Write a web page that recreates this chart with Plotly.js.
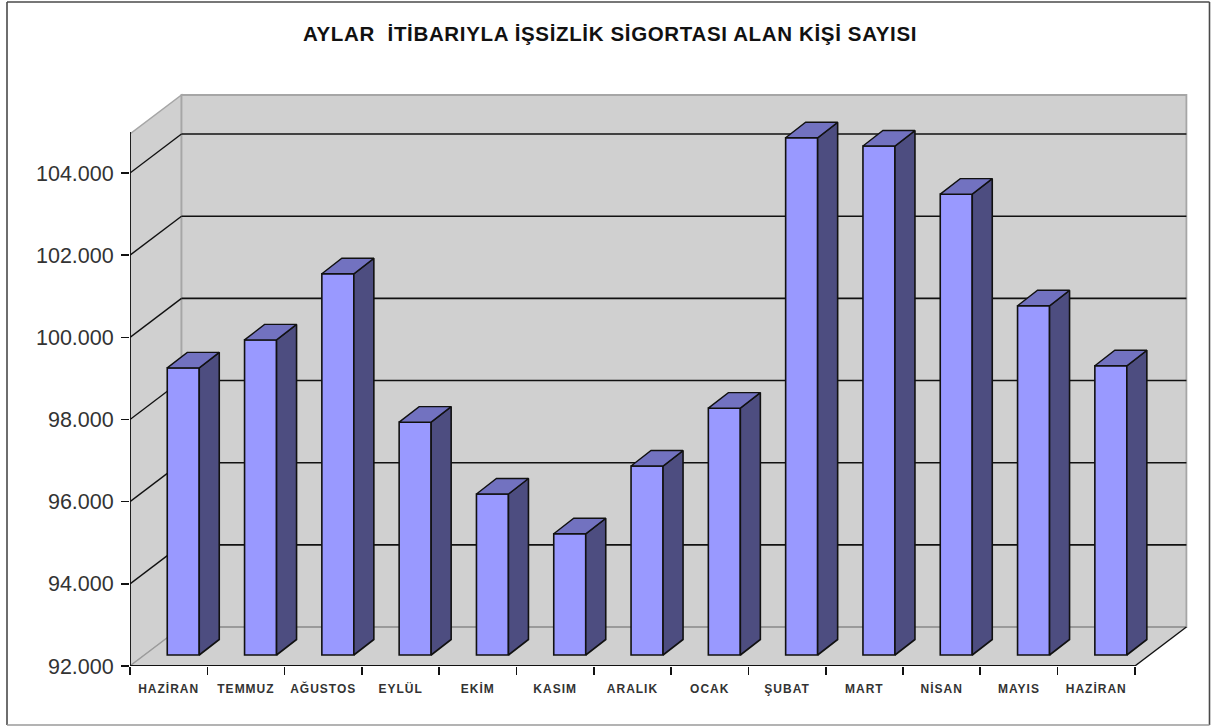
<!DOCTYPE html>
<html>
<head>
<meta charset="utf-8">
<script src="https://cdn.plot.ly/plotly-3.0.1.min.js"></script>
<style>
html,body{margin:0;padding:0;background:#fff;overflow:hidden}
#c{width:1211px;height:726px}
.gtitle{letter-spacing:0.65px}
.xtick text{letter-spacing:1px}
</style>
</head>
<body>
<div id="c"></div>
<script>
const months = ["HAZİRAN","TEMMUZ","AĞUSTOS","EYLÜL","EKİM","KASIM","ARALIK","OCAK","ŞUBAT","MART","NİSAN","MAYIS","HAZİRAN"];
const values = [98990,99670,101280,97670,95920,94950,96600,98010,104590,104390,103220,100500,99040];
const yTicks = [92000,94000,96000,98000,100000,102000,104000];
const yAxisMax = 105000;
const yBackTop = 104950;
const titleText = "AYLAR\u00A0\u00A0İTİBARIYLA İŞSİZLİK SİGORTASI ALAN KİŞİ SAYISI";

// geometry of the pseudo-3D box, expressed in axis units
const W = 1211, H = 726, L = 130, R = 1192, T = 90, B = 666;
const pxPerCat = 77.3, pxPerUnit = 41.08 / 1000;
const yMin = yTicks[0], yMax = yMin + (B - T) / pxPerUnit;
const xMin = -0.5, xEnd = months.length - 0.5, xMax = xMin + (R - L) / pxPerCat;
const wallDx = 51.5 / pxPerCat, wallDy = 39 / pxPerUnit;
const barDx = 14.6 / pxPerCat, barDy = 11 / pxPerUnit;
const barW = 32 / pxPerCat;
const sideDx = 20 / pxPerCat, sideDy = 15.5 / pxPerUnit;

const FILL = "#d0d0d0", EDGE = "#a6a6a6", INK = "#111111";
const front = "#9999ff", side = "#4d4d80", top_ = "#7272c0";

const px = v => (v - L) / (R - L), py = v => (B - v) / (B - T);
const poly = pts => "M" + pts.map(p => p[0] + "," + p[1]).join("L") + "Z";
const shape = (path, fill, color, width) => ({type:"path", path, xref:"x", yref:"y", fillcolor:fill,
  line:{color:color, width:width}, layer:"below"});
const seg = (x0,y0,x1,y1,color,width) => ({type:"line", xref:"x", yref:"y", x0,y0,x1,y1, layer:"below", line:{color,width}});
const frameLine = (x0,y0,x1,y1,color) => ({type:"line", xref:"paper", yref:"paper", x0:px(x0), y0:py(y0), x1:px(x1), y1:py(y1), layer:"below", line:{color, width:1.6}});

const shapes = [];
// walls and floor
shapes.push(shape(poly([[xMin,yMin],[xMin,yBackTop],[xMin+wallDx,yBackTop+wallDy],[xMin+wallDx,yMin+wallDy]]), FILL, EDGE, 1.5));
shapes.push(shape(poly([[xMin+wallDx,yMin+wallDy],[xMin+wallDx,yBackTop+wallDy],[xEnd+wallDx,yBackTop+wallDy],[xEnd+wallDx,yMin+wallDy]]), FILL, EDGE, 1.8));
shapes.push(shape(poly([[xMin,yMin],[xEnd,yMin],[xEnd+wallDx,yMin+wallDy],[xMin+wallDx,yMin+wallDy]]), FILL, "rgba(0,0,0,0)", 0));
shapes.push(seg(xMin,yMin,xMin+wallDx,yMin+wallDy,"#9a9a9a",1.2));
shapes.push(seg(xMin+wallDx,yMin+wallDy,xEnd+wallDx,yMin+wallDy,"#9a9a9a",2));
shapes.push(seg(xEnd,yMin,xEnd+wallDx,yMin+wallDy,INK,1.4));
// gridlines on the walls
yTicks.slice(1).forEach(t => {
  shapes.push(seg(xMin,t,xMin+wallDx,t+wallDy,INK,1.4));
  shapes.push(seg(xMin+wallDx,t+wallDy,xEnd+wallDx,t+wallDy,INK,1.6));
});
// outer frame
shapes.push(frameLine(7,2,1209.5,2,"#4a4a4a"));
shapes.push(frameLine(7,2,7,725,"#4a4a4a"));
shapes.push(frameLine(1209.5,2,1209.5,725,"#4a4a4a"));
shapes.push(frameLine(7,725,1209.5,725,"#9a9a9a"));

const xs = months.map((_, i) => i);
const bx0 = xs.map(i => i + barDx - barW / 2);
const bx1 = xs.map(i => i + barDx + barW / 2);
const base = yMin + barDy;

const sideX = [], sideY = [], topX = [], topY = [];
values.forEach((v, i) => {
  const t = v + barDy;
  sideX.push(bx1[i], bx1[i] + sideDx, bx1[i] + sideDx, bx1[i], bx1[i], null);
  sideY.push(base, base + sideDy, t + sideDy, t, base, null);
  topX.push(bx0[i], bx1[i], bx1[i] + sideDx, bx0[i] + sideDx, bx0[i], null);
  topY.push(t, t, t + sideDy, t + sideDy, t, null);
});

const traces = [
  {type:"bar", x:xs.map(i => i + barDx), y:values.map(v => v - yMin), base:base, width:barW,
   marker:{color:front, line:{color:INK, width:1.6}}, hoverinfo:"skip", showlegend:false},
  {type:"scatter", mode:"lines", x:sideX, y:sideY, fill:"toself", fillcolor:side,
   line:{color:INK, width:1.6}, hoverinfo:"skip", showlegend:false},
  {type:"scatter", mode:"lines", x:topX, y:topY, fill:"toself", fillcolor:top_,
   line:{color:INK, width:1.4}, hoverinfo:"skip", showlegend:false},
  {type:"scatter", mode:"lines", x:[xMin,xMin,xEnd], y:[yAxisMax,yMin,yMin], cliponaxis:false,
   line:{color:INK, width:1.8}, hoverinfo:"skip", showlegend:false}
];

const layout = {
  width:W, height:H, paper_bgcolor:"#ffffff", plot_bgcolor:"rgba(0,0,0,0)",
  margin:{l:L, r:W-R, t:T, b:H-B, pad:0},
  separators:",.", showlegend:false, shapes,
  title:{text:titleText, x:610/W, xanchor:"center", xref:"container", y:1-34/H, yanchor:"middle",
         font:{family:"Liberation Sans, Arial, sans-serif", size:20.5, color:"#111", weight:"bold"}},
  xaxis:{range:[xMin,xMax], showgrid:false, zeroline:false, showline:false,
         tickmode:"array", tickvals:xs, ticktext:months, tickangle:0,
         ticks:"outside", ticklen:12, tickcolor:"rgba(0,0,0,0)",
         minor:{tickmode:"array", tickvals:months.map((_, i) => i - 0.5).concat([xEnd]), ticks:"outside", ticklen:8, tickwidth:1.6, tickcolor:INK, showgrid:false},
         tickfont:{family:"Liberation Sans, Arial, sans-serif", size:12, color:"#333", weight:"bold"}},
  yaxis:{range:[yMin,yMax], showgrid:false, zeroline:false, showline:false,
         tickmode:"array", tickvals:yTicks, tickformat:",d",
         ticks:"outside", ticklen:8, tickwidth:1.6, tickcolor:INK, ticklabelstandoff:3,
         tickfont:{family:"Liberation Sans, Arial, sans-serif", size:21.5, color:"#333"}}
};
Plotly.newPlot("c", traces, layout, {displayModeBar:false, staticPlot:true});
</script>
</body>
</html>
